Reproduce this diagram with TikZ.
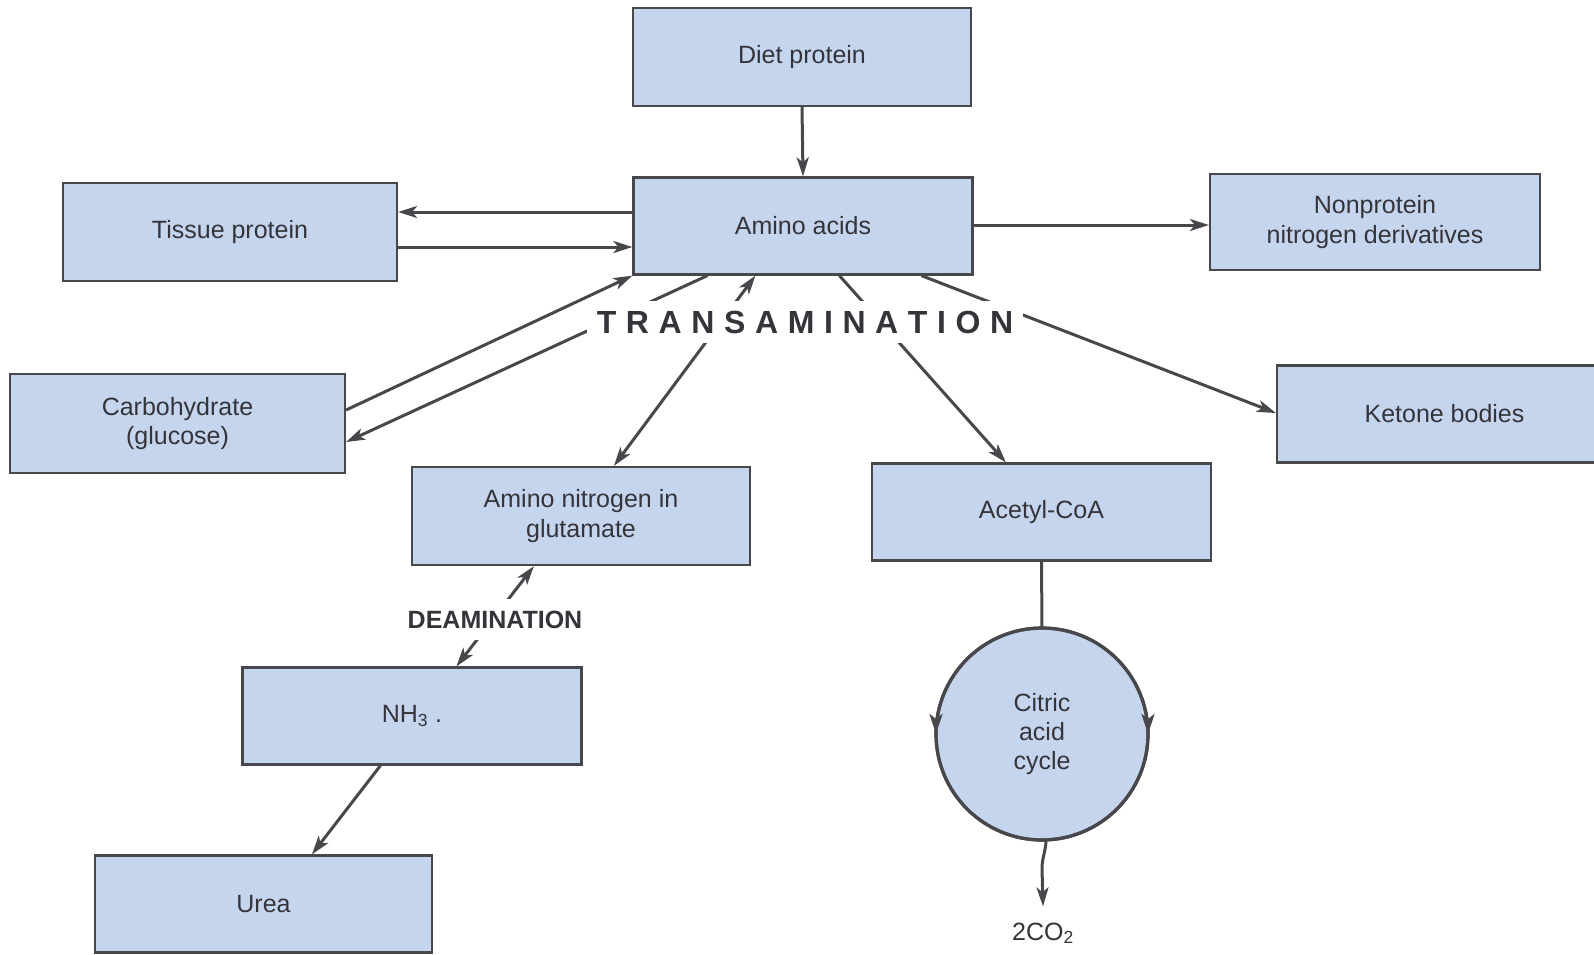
\documentclass[tikz,border=0pt]{standalone}
\usepackage{fontspec}
\setmainfont{Liberation Sans}
\usetikzlibrary{arrows.meta,decorations.markings,calc}
\definecolor{boxfill}{RGB}{198,213,238}
\definecolor{linec}{RGB}{72,72,76}
\definecolor{textc}{RGB}{52,52,58}
\newcommand{\lsp}{\kern9.6pt}
\begin{document}
\begin{tikzpicture}[x=1pt,y=1pt,
  box/.style={draw=linec, line width=2.2pt, fill=boxfill, text=textc, inner sep=0pt, align=center, font=\fontsize{25pt}{29.5pt}\selectfont},
  tip/.tip={Stealth[length=19pt,width=12pt,inset=5pt]},
  arr/.style={draw=linec, line width=3pt, -tip},
  darr/.style={draw=linec, line width=3pt, tip-tip},
  plain/.style={draw=linec, line width=3pt},
  cyclearc/.style={draw=linec, line width=3.2pt, postaction={decorate},
    decoration={markings, mark=at position 0.5 with {\arrow[linec]{Stealth[length=20pt,width=13pt,inset=5pt]}}}},
  biglabel/.style={fill=white, text=textc, inner sep=10pt, anchor=base, font=\fontsize{32pt}{32pt}\selectfont\bfseries},
  midlabel/.style={fill=white, text=textc, inner xsep=6pt, inner ysep=12pt, anchor=base, font=\fontsize{25pt}{25pt}\selectfont\bfseries},
  plaintext/.style={text=textc, inner sep=0pt, font=\fontsize{25pt}{29.5pt}\selectfont, align=center}
]
\fill[white] (0,0) rectangle (1594,-954);
\useasboundingbox (0,0) rectangle (1594,-954);
\clip (0,0) rectangle (1594,-954);

% boxes
\node[box, minimum width=338pt, minimum height=98pt] (diet) at (802,-57) {Diet protein};
\node[box, minimum width=339pt, minimum height=97pt] (amino) at (803,-226) {Amino acids};
\node[box, minimum width=334pt, minimum height=98pt] (tissue) at (230,-232) {Tissue protein};
\node[box, minimum width=330pt, minimum height=96pt] (nonprot) at (1375,-222) {Nonprotein\\nitrogen derivatives};
\node[box, minimum width=335pt, minimum height=99pt] (carb) at (177.5,-423.5) {Carbohydrate\\(glucose)};
\node[box, minimum width=335pt, minimum height=97pt] (ketone) at (1444.5,-414) {Ketone bodies};
\node[box, minimum width=338pt, minimum height=98pt] (glut) at (581,-516) {Amino nitrogen in\\glutamate};
\node[box, minimum width=339pt, minimum height=97pt] (acetyl) at (1041.5,-512) {Acetyl-CoA};
\node[box, minimum width=339pt, minimum height=97pt] (nh3) at (412,-716) {NH\textsubscript{3}\ .};
\node[box, minimum width=337pt, minimum height=97pt] (urea) at (263.5,-904) {Urea};
\node[circle, draw=linec, line width=3.2pt, fill=boxfill, minimum size=212pt, inner sep=0pt, outer sep=0pt,
      text=textc, align=center, font=\fontsize{25pt}{29pt}\selectfont] (circ) at (1042,-734) {Citric\\acid\\cycle};
\node[plaintext, anchor=base] (co2) at (1043,-940) {2CO\textsubscript{2}};

% helper heights
\coordinate (ya) at (0,-212);
\coordinate (yb) at (0,-247);
\coordinate (yc) at (0,-225);
\coordinate (yd) at (0,-410);
\coordinate (ye) at (0,-442);
\coordinate (yk) at (0,-413);

% connectors
\draw[arr] (diet.south) -- (amino.north);
\draw[arr] (amino.west |- ya) -- (tissue.east |- ya);
\draw[arr] (tissue.east |- yb) -- (amino.west |- yb);
\draw[arr] (amino.east |- yc) -- (nonprot.west |- yc);
\draw[arr] (carb.east |- yd) -- (amino.south west);
\draw[arr] ([xshift=75pt]amino.south west) -- (carb.east |- ye);
\draw[darr] ([xshift=203pt]glut.north west) -- ([xshift=123pt]amino.south west);
\draw[arr] ([xshift=207pt]amino.south west) -- ([xshift=135pt]acetyl.north west);
\draw[arr] ([xshift=289pt]amino.south west) -- (ketone.west |- yk);
\draw[darr] ([xshift=215pt]nh3.north west) -- ([xshift=123pt]glut.south west);
\draw[arr] ([xshift=139pt]nh3.south west) -- ([xshift=218pt]urea.north west);
\draw[plain] (acetyl.south) -- (circ.north);
\draw[arr] ([xshift=4pt]circ.south) .. controls +(0,-10) and +(0,10) .. ([yshift=-28pt]circ.south) -- ([yshift=16pt]co2.north);

% cycle arrows
\draw[cyclearc] (circ.north) arc[start angle=90, end angle=270, radius=106pt];
\draw[cyclearc] (circ.north) arc[start angle=90, end angle=-90, radius=106pt];

% labels with knock-out background
\node[biglabel] (trans) at (805,-333) {T\lsp R\lsp A\lsp N\lsp S\lsp A\lsp M\lsp I\lsp N\lsp A\lsp T\lsp I\lsp O\lsp N};
\node[midlabel] (deam) at (495,-628) {DEAMINATION};
\end{tikzpicture}
\end{document}
